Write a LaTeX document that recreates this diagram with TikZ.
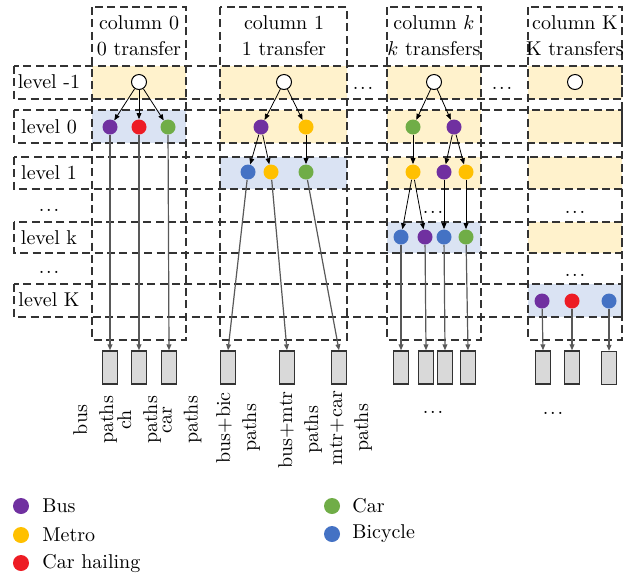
\documentclass[tikz,border=0pt]{standalone}
\usetikzlibrary{arrows.meta}
\definecolor{busc}{HTML}{7030A0}
\definecolor{mtrc}{HTML}{FFC000}
\definecolor{chc}{HTML}{ED1C24}
\definecolor{carc}{HTML}{70AD47}
\definecolor{bicc}{HTML}{4472C4}
\definecolor{bandy}{HTML}{FFF2CC}
\definecolor{bandb}{HTML}{DAE3F3}
\definecolor{sinkc}{HTML}{D9D9D9}
\newcommand{\gapdots}{.\kern0.9pt.\kern0.9pt.}
\begin{document}
\begin{tikzpicture}[x=0.5pt,y=-0.5pt,font=\fontsize{10}{13}\selectfont]
\tikzstyle{frame}=[draw=black!80,dash pattern=on 4pt off 2.2pt,line width=0.65pt]
\tikzstyle{mode}=[circle,inner sep=0pt,minimum size=7.5pt]
\tikzstyle{root}=[mode,draw,fill=white,line width=0.5pt]
\tikzstyle{sink}=[rectangle,draw=black!80,fill=sinkc,line width=0.7pt,minimum width=7.5pt,minimum height=16.5pt,inner sep=0pt]
\tikzstyle{to}=[-{Triangle[length=3pt,width=2.4pt]},line width=0.4pt]
\tikzstyle{down}=[to,draw=black!65,line width=0.6pt]
\tikzstyle{lab}=[rotate=90,align=center,inner sep=0pt]
\useasboundingbox (0,0) rectangle (624,580);
\fill[bandy] (92,66) rectangle (186,99);
\fill[bandb] (92,110) rectangle (186,143);
\fill[bandy] (220,66) rectangle (347,99) (220,110) rectangle (347,143);
\fill[bandb] (220,157) rectangle (347,189);
\fill[bandy] (387,66) rectangle (481,99) (387,110) rectangle (481,143) (387,157) rectangle (481,189);
\fill[bandb] (387,222) rectangle (481,253);
\fill[bandy] (528,66) rectangle (622,99) (528,110) rectangle (622,143) (528,157) rectangle (622,189) (528,222) rectangle (622,253);
\fill[bandb] (528,284) rectangle (622,317);
\foreach \a/\b in {92/186,220/347,387/481,528/622}
  \draw[frame] (\a,7) rectangle (\b,340);
\foreach \a/\b in {66/99,110/143,157/189,222/253,284/317}
  \draw[frame] (14,\a) rectangle (622,\b);
\node[align=center] (h0) at (139,36) {column 0\\0 transfer};
\node[align=center] (h1) at (284,36) {column 1\\1 transfer};
\node[align=center] (hk) at (434,36) {column $k$\\$k$ transfers};
\node[align=center] (hK) at (575,36) {column K\\K transfers};
\node (l1) at (49,82) {level -1};
\node (l2) at (49,127) {level 0};
\node (l3) at (49,173) {level 1};
\node (l4) at (49,238) {level k};
\node (l5) at (49,300) {level K};
\node (d1) at (49,210) {\gapdots};
\node (d2) at (49,272) {\gapdots};
\node (d3) at (363,88) {\gapdots};
\node (d4) at (502,88) {\gapdots};
\node (d5) at (433,212) {\gapdots};
\node (d6) at (575,212) {\gapdots};
\node (d7) at (575,275) {\gapdots};
\node (d8) at (433,412) {\gapdots};
\node (d9) at (553,413) {\gapdots};
\node[root] (r0) at (139,82) {};
\node[mode,fill=busc] (n0a) at (110,127) {};
\node[mode,fill=chc] (n0b) at (139,127) {};
\node[mode,fill=carc] (n0c) at (168,127) {};
\node[root] (r1) at (284,82) {};
\node[mode,fill=busc] (n1a) at (261,127) {};
\node[mode,fill=mtrc] (n1b) at (306,127) {};
\node[mode,fill=bicc] (n1c) at (248,172) {};
\node[mode,fill=mtrc] (n1d) at (271,172) {};
\node[mode,fill=carc] (n1e) at (306,172) {};
\node[root] (rk) at (434,82) {};
\node[mode,fill=carc] (nka) at (413,127) {};
\node[mode,fill=busc] (nkb) at (454,127) {};
\node[mode,fill=mtrc] (nkc) at (413,172) {};
\node[mode,fill=busc] (nkd) at (444,172) {};
\node[mode,fill=mtrc] (nke) at (466,172) {};
\node[mode,fill=bicc] (nkf) at (401,237) {};
\node[mode,fill=busc] (nkg) at (425,237) {};
\node[mode,fill=bicc] (nkh) at (444,237) {};
\node[mode,fill=carc] (nki) at (466,237) {};
\node[root] (rK) at (575,82) {};
\node[mode,fill=busc] (nKa) at (542,301) {};
\node[mode,fill=chc] (nKb) at (572,301) {};
\node[mode,fill=bicc] (nKc) at (609,301) {};
\node[sink] (s0a) at (110,367.5) {};
\node[sink] (s0b) at (139,367.5) {};
\node[sink] (s0c) at (169,367.5) {};
\node[sink] (s1a) at (228,367.5) {};
\node[sink] (s1b) at (287,367.5) {};
\node[sink] (s1c) at (339,367.5) {};
\node[sink] (ska) at (401,367.5) {};
\node[sink] (skb) at (426,367.5) {};
\node[sink] (skc) at (445,367.5) {};
\node[sink] (skd) at (468,367.5) {};
\node[sink] (sKa) at (543,367.5) {};
\node[sink] (sKb) at (572,367.5) {};
\node[sink] (sKc) at (609,368) {};
\draw[to] (r0) -- (n0a);
\draw[to] (r0) -- (n0b);
\draw[to] (r0) -- (n0c);
\draw[to] (r1) -- (n1a);
\draw[to] (r1) -- (n1b);
\draw[to] (n1a) -- (n1c);
\draw[to] (n1a) -- (n1d);
\draw[to] (n1b) -- (n1e);
\draw[to] (rk) -- (nka);
\draw[to] (rk) -- (nkb);
\draw[to] (nka) -- (nkc);
\draw[to] (nkb) -- (nkd);
\draw[to] (nkb) -- (nke);
\draw[to] (nkc) -- (nkf);
\draw[to] (nkc) -- (nkg);
\draw[to] (nkd) -- (nkh);
\draw[to] (nke) -- (nki);
\draw[down] (n0a) -- (s0a.north);
\draw[down] (n0b) -- (s0b.north);
\draw[down] (n0c) -- (s0c.north);
\draw[down] (n1c) -- (s1a.north);
\draw[down] (n1d) -- (s1b.north);
\draw[down] (n1e) -- (s1c.north);
\draw[down] (nkf) -- (ska.north);
\draw[down] (nkg) -- (skb.north);
\draw[down] (nkh) -- (skc.north);
\draw[down] (nki) -- (skd.north);
\draw[down] (nKa) -- (sKa.north);
\draw[down] (nKb) -- (sKb.north);
\draw[down] (nKc) -- (sKc.north);
\node[lab] (p0a) at (95,420) {bus\\paths};
\node[lab] (p0b) at (139,420) {ch\\paths};
\node[lab] (p0c) at (182,420) {car\\paths};
\node[lab] (p1a) at (238,428) {bus+bic\\paths};
\node[lab] (p1b) at (300,430) {bus+mtr\\paths};
\node[lab] (p1c) at (351,428) {mtr+car\\paths};
\node[mode,minimum size=8pt,fill=busc] (k1) at (21,506) {};
\node[mode,minimum size=8pt,fill=mtrc] (k2) at (21,535) {};
\node[mode,minimum size=8pt,fill=chc] (k3) at (21,563) {};
\node[mode,minimum size=8pt,fill=carc] (k4) at (332,506) {};
\node[mode,minimum size=8pt,fill=bicc] (k5) at (332,534) {};
\node[anchor=west,inner sep=0pt] (t1) at (42,506) {Bus};
\node[anchor=west,inner sep=0pt] (t2) at (42,535) {Metro};
\node[anchor=west,inner sep=0pt] (t3) at (42,563) {Car hailing};
\node[anchor=west,inner sep=0pt] (t4) at (352,506) {Car};
\node[anchor=west,inner sep=0pt] (t5) at (352,534) {Bicycle};
\end{tikzpicture}
\end{document}
